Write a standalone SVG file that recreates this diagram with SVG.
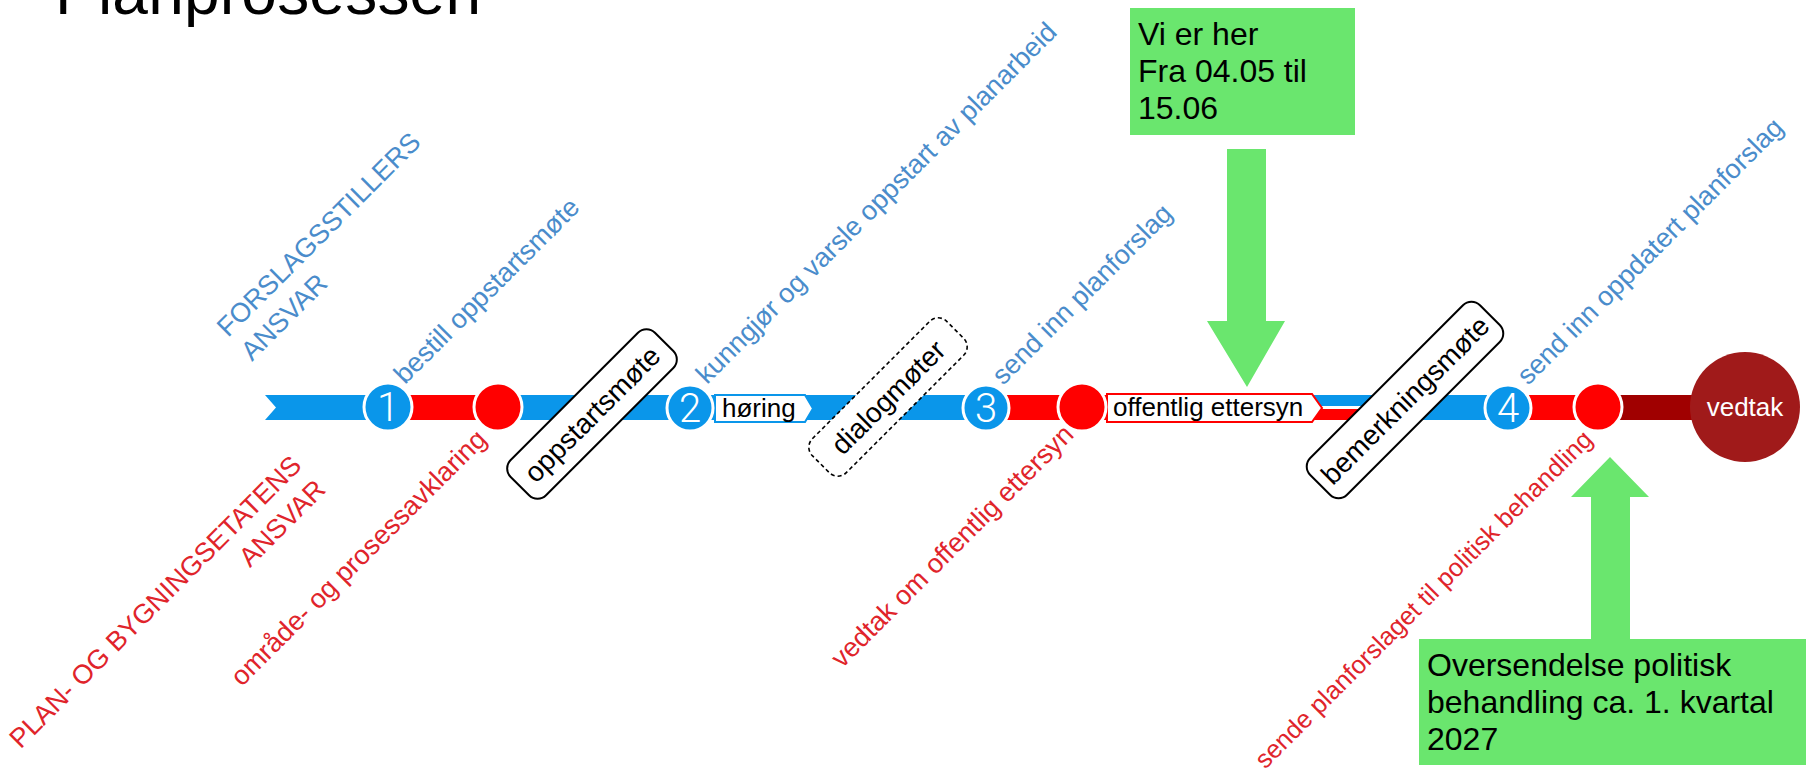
<svg xmlns="http://www.w3.org/2000/svg" width="1806" height="781" viewBox="0 0 1806 781">
<style>
text{font-family:"Liberation Sans",Arial,sans-serif}
.lb{fill:#4A8CCB;font-size:27px}
.lr{fill:#E0242B;font-size:27px;text-anchor:end}
.num{fill:#fff;font-family:Roboto,"Liberation Sans",sans-serif;font-weight:300;font-size:40px;text-anchor:middle}
.bc{fill:#0A96EA;stroke:#fff;stroke-width:3}
.rc{fill:#FF0000;stroke:#fff;stroke-width:3}
.box{fill:#fff;stroke:#000;stroke-width:2}
.bt{fill:#000;font-size:28px;text-anchor:middle}
.g{fill:#6AE66E}
.gt{fill:#000;font-size:32px}
</style>
<text x="55" y="14" font-size="64" textLength="426" fill="#000">Planprosessen</text>

<g id="connectors">
  <polygon points="265,395 392,395 392,420 265,420 276,407.5" fill="#0A96EA"/>
  <rect x="388" y="395" width="112" height="25" fill="#FF0000"/>
  <rect x="498" y="395" width="490" height="25" fill="#0A96EA"/>
  <rect x="985" y="395" width="125" height="25" fill="#FF0000"/>
  <rect x="1310" y="395" width="95" height="11" fill="#0A96EA"/>
  <rect x="1310" y="409" width="95" height="11" fill="#FF0000"/>
  <rect x="1404" y="395" width="106" height="25" fill="#0A96EA"/>
  <rect x="1508" y="395" width="92" height="25" fill="#FF0000"/>
  <rect x="1598" y="395" width="100" height="25" fill="#A00000"/>
</g>

<g id="horing">
  <polygon points="715,395 805,395 813,408.5 805,422 715,422" fill="#fff" stroke="#0A96EA" stroke-width="2"/>
  <text x="722" y="417" font-size="26" fill="#000">høring</text>
</g>
<g id="offentlig-ettersyn">
  <polygon points="1107,394 1312,394 1322,408 1312,422 1107,422" fill="#fff" stroke="#FF0000" stroke-width="2"/>
  <text x="1113" y="416" font-size="26" fill="#000">offentlig ettersyn</text>
</g>

<g id="step1"><circle cx="388" cy="407" r="24" class="bc"/><text x="388" y="421" class="num">1</text></g>
<g id="red1"><circle cx="498" cy="407" r="24" class="rc"/></g>
<g id="step2"><circle cx="690" cy="408" r="23" class="bc"/><text x="690" y="422" class="num">2</text></g>
<g id="step3"><circle cx="986" cy="408" r="23" class="bc"/><text x="986" y="422" class="num">3</text></g>
<g id="red2"><circle cx="1082" cy="407" r="24" class="rc"/></g>
<g id="step4"><circle cx="1508" cy="408" r="23" class="bc"/><text x="1508" y="422" class="num">4</text></g>
<g id="red3"><circle cx="1598" cy="407" r="24" class="rc"/></g>
<g id="vedtak"><circle cx="1745" cy="407" r="55" fill="#A01A1A"/><text x="1745" y="416" font-size="26" fill="#fff" text-anchor="middle">vedtak</text></g>

<g id="oppstartsmote" transform="translate(592,414) rotate(-45)">
  <rect x="-102" y="-25" width="204" height="50" rx="12" class="box"/>
  <text x="0" y="10" class="bt">oppstartsmøte</text>
</g>
<g id="dialogmoter" transform="translate(888,397) rotate(-45)">
  <rect x="-95" y="-24" width="190" height="48" rx="12" fill="#fff" stroke="#000" stroke-width="1.6" stroke-dasharray="4 3"/>
  <text x="0" y="10" class="bt">dialogmøter</text>
</g>
<g id="bemerkningsmote" transform="translate(1405,400) rotate(-45)">
  <rect x="-120" y="-26" width="240" height="52" rx="12" class="box"/>
  <text x="0" y="10" class="bt">bemerkningsmøte</text>
</g>

<g id="labels-blue">
  <text class="lb" transform="translate(228,338) rotate(-45)"><tspan x="0" y="0">FORSLAGSSTILLERS</tspan><tspan x="0" dy="34">ANSVAR</tspan></text>
  <text class="lb" transform="translate(405,385) rotate(-45)">bestill oppstartsmøte</text>
  <text class="lb" transform="translate(707,385) rotate(-45)">kunngjør og varsle oppstart av planarbeid</text>
  <text class="lb" transform="translate(1003,386) rotate(-45)">send inn planforslag</text>
  <text class="lb" transform="translate(1528,386) rotate(-45)">send inn oppdatert planforslag</text>
</g>
<g id="labels-red">
  <text class="lr" transform="translate(303,467) rotate(-45)"><tspan x="0" y="0">PLAN- OG BYGNINGSETATENS</tspan><tspan x="0" dy="34">ANSVAR</tspan></text>
  <text class="lr" transform="translate(488,441) rotate(-45)">område- og prosessavklaring</text>
  <text class="lr" transform="translate(1075,436) rotate(-45)">vedtak om offentlig ettersyn</text>
  <text class="lr" style="font-size:25.5px" transform="translate(1594,441) rotate(-45)">sende planforslaget til politisk behandling</text>
</g>

<g id="vi-er-her">
  <rect x="1130" y="8" width="225" height="127" class="g"/>
  <text class="gt"><tspan x="1138" y="45">Vi er her</tspan><tspan x="1138" y="82">Fra 04.05 til</tspan><tspan x="1138" y="119">15.06</tspan></text>
  <polygon points="1227,149 1266,149 1266,321 1285,321 1247,387 1207,321 1227,321" class="g"/>
</g>
<g id="oversendelse">
  <rect x="1419" y="639" width="387" height="126" class="g"/>
  <text class="gt"><tspan x="1427" y="676">Oversendelse politisk</tspan><tspan x="1427" y="713">behandling ca. 1. kvartal</tspan><tspan x="1427" y="750">2027</tspan></text>
  <polygon points="1591,640 1630,640 1630,497 1649,497 1610,457 1571,497 1591,497" class="g"/>
</g>
</svg>
